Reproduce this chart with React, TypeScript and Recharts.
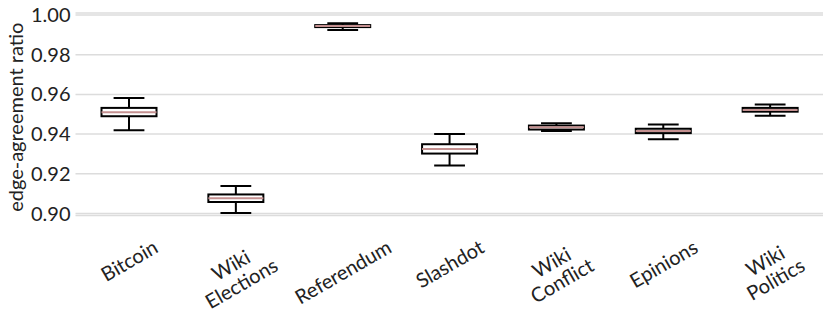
import React from 'react';
import { ComposedChart, Bar, XAxis, YAxis, CartesianGrid, Label } from 'recharts';

const datasets = ['Bitcoin', 'Wiki\nElections', 'Referendum', 'Slashdot', 'Wiki\nConflict', 'Epinions', 'Wiki\nPolitics'];
const whiskerLow = [0.942, 0.9003, 0.9925, 0.9242, 0.9416, 0.9374, 0.9493];
const quart1 = [0.949, 0.9058, 0.9939, 0.9302, 0.9423, 0.9405, 0.9513];
const medians = [0.951, 0.9077, 0.9944, 0.9325, 0.9434, 0.9416, 0.9522];
const quart3 = [0.9532, 0.9096, 0.9949, 0.9349, 0.9443, 0.9427, 0.9532];
const whiskerHigh = [0.9582, 0.9138, 0.9958, 0.940, 0.9455, 0.9448, 0.9549];
const yTicks = [0.9, 0.92, 0.94, 0.96, 0.98, 1.0];

const rows = datasets.map((name, i) => ({
  name,
  low: whiskerLow[i],
  q1: quart1[i],
  median: medians[i],
  q3: quart3[i],
  high: whiskerHigh[i],
}));

const FONT = 'Lato, "DejaVu Sans", sans-serif';
const FONT_SIZE = 20;
const INK = '#222';

let ctx: CanvasRenderingContext2D | null = null;
function textWidth(s: string) {
  if (!ctx) ctx = document.createElement('canvas').getContext('2d');
  if (!ctx) return s.length * 9;
  ctx.font = `${FONT_SIZE}px Lato`;
  return ctx.measureText(s).width;
}

function BoxShape(props: any) {
  const { x, y, width, height, payload } = props;
  const { low, high, q1, median, q3 } = payload;
  // the bar spans [low, high]; inner values placed on the same linear scale
  const yOf = (v: number) => y + ((high - v) / (high - low)) * height;
  const cx = x + width / 2;
  const capHalf = width * 0.28;
  const yq1 = yOf(q1);
  const yq3 = yOf(q3);
  const ym = yOf(median);
  return (
    <g>
      <line x1={cx} x2={cx} y1={y} y2={yq3} stroke="#000" strokeWidth={2} />
      <line x1={cx} x2={cx} y1={yq1} y2={y + height} stroke="#000" strokeWidth={2} />
      <line x1={cx - capHalf} x2={cx + capHalf} y1={y} y2={y} stroke="#000" strokeWidth={2} />
      <line x1={cx - capHalf} x2={cx + capHalf} y1={y + height} y2={y + height} stroke="#000" strokeWidth={2} />
      <rect x={x} y={yq3} width={width} height={Math.max(yq1 - yq3, 0.5)} fill="#fff" stroke="#000" strokeWidth={2} />
      <line x1={x} x2={x + width} y1={ym} y2={ym} stroke="#c49090" strokeWidth={2} />
    </g>
  );
}

function XTick(props: any) {
  const { x, y, payload } = props;
  const lines = String(payload.value).split('\n');
  const lineH = 21;
  const w = Math.max(...lines.map(textWidth));
  const h = lines.length * lineH;
  const rad = Math.PI / 6;
  const bboxH = w * Math.sin(rad) + h * Math.cos(rad);
  const cy = y + 12 + bboxH / 2;
  return (
    <text
      transform={`rotate(-30, ${x}, ${cy})`}
      textAnchor="middle"
      fontFamily={FONT}
      fontSize={FONT_SIZE}
      fill={INK}
    >
      {lines.map((l, i) => (
        <tspan key={i} x={x} y={cy + (i - (lines.length - 1) / 2) * lineH} dominantBaseline="central">
          {l}
        </tspan>
      ))}
    </text>
  );
}

export default function App() {
  return (
    <div style={{ margin: '-8px', width: 831, height: 324 }}>
      <ComposedChart
        width={831}
        height={324}
        data={rows}
        margin={{ top: 13, right: 7.5, bottom: 0, left: 0 }}
      >
        <CartesianGrid vertical={false} stroke="#dcdcdc" strokeWidth={1.5} />
        <XAxis
          dataKey="name"
          height={108.5}
          axisLine={false}
          tickLine={false}
          interval={0}
          tick={<XTick />}
        />
        <YAxis
          type="number"
          domain={[0.899, 1.001]}
          ticks={yTicks}
          allowDataOverflow
          width={75.5}
          axisLine={false}
          tickLine={false}
          tickSize={3}
          tickFormatter={(v: number) => v.toFixed(2)}
          tick={{ fontFamily: FONT, fontSize: FONT_SIZE, fill: INK }}
        >
          <Label
            content={(p: any) => {
              const vb = p.viewBox;
              const cy = vb.y + vb.height / 2 + 3;
              return (
                <text
                  x={23}
                  y={cy}
                  transform={`rotate(-90, 23, ${cy})`}
                  textAnchor="middle"
                  fontFamily={FONT}
                  fontSize={FONT_SIZE}
                  fill={INK}
                >
                  edge-agreement ratio
                </text>
              );
            }}
          />
        </YAxis>
        <Bar
          dataKey={(d: any) => [d.low, d.high]}
          barSize={55}
          shape={<BoxShape />}
          isAnimationActive={false}
        />
      </ComposedChart>
    </div>
  );
}
